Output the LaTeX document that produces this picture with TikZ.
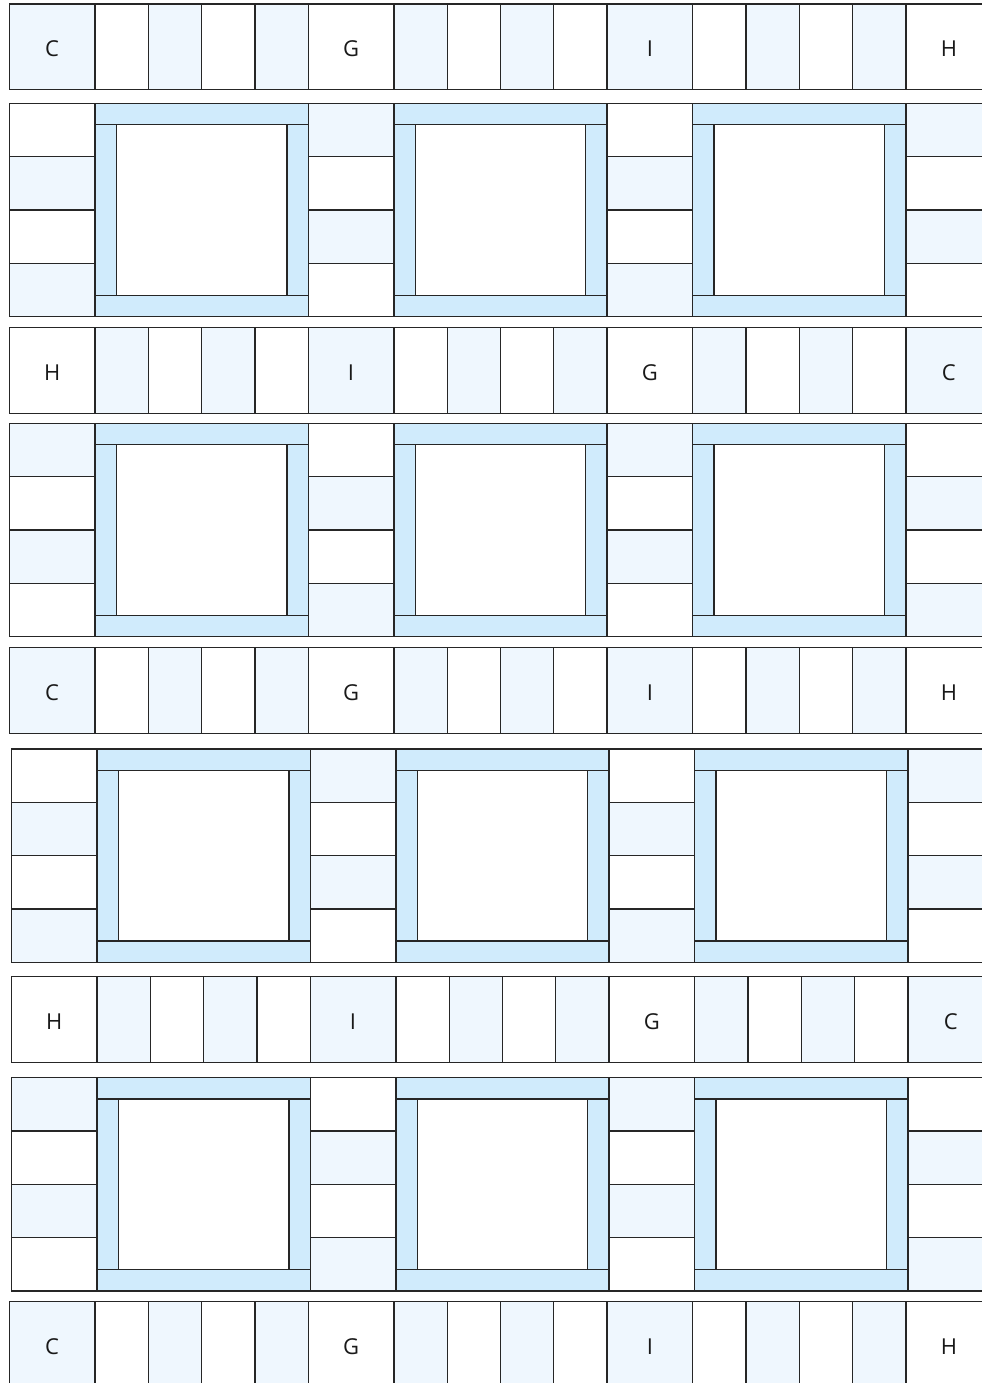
\documentclass[tikz,border=0pt]{standalone}
\usepackage{fontspec}
\setsansfont{Open Sans}
\definecolor{quiltpale}{RGB}{239,247,254}
\definecolor{quiltband}{RGB}{208,235,252}

% one pieced strip: x0, y0, parity, name, labels
\newcommand{\quiltstrip}[5]{%
  \foreach \g in {0,...,3}{
    \foreach \k in {0,...,4}{
      \pgfmathsetmacro{\xa}{#1+\g*298.9+(\k>0)*(85.7+(\k-1)*53.3)}
      \pgfmathsetmacro{\wd}{(\k==0)*85.7+(\k>0)*53.3}
      \pgfmathtruncatemacro{\pp}{mod(\g+\k+#3,2)}
      \ifnum\pp=0 \fill[quiltpale] (\xa,#2) rectangle ++(\wd,85.7); \fi
      \draw[seam] (\xa,#2) rectangle ++(\wd,85.7);
    }
  }
  \foreach \lab [count=\n from 0] in {#5}
    \node[letter] (#4-\n) at (#1+\n*298.9+42.85,#2+45) {\lab};
}

% one row of framed blocks: x0, y0, parity
\newcommand{\quiltblock}[3]{%
  \foreach \c in {0,...,3}{
    \foreach \r in {0,...,3}{
      \pgfmathtruncatemacro{\pp}{mod(\c+\r+#3,2)}
      \ifnum\pp=0 \fill[quiltpale] (#1+\c*298.9,#2+\r*53.3) rectangle ++(85.7,53.3); \fi
      \draw[seam] (#1+\c*298.9,#2+\r*53.3) rectangle ++(85.7,53.3);
    }
  }
  \foreach \f in {0,1,2}{
    \pgfmathsetmacro{\xa}{#1+85.7+\f*298.9}
    \fill[quiltband] (\xa,#2) rectangle ++(213.2,213.2);
    \fill[white] (\xa+21.3,#2+21.3) rectangle ++(170.6,170.6);
    \draw[seam] (\xa,#2) rectangle ++(213.2,213.2);
    \draw[seam] (\xa,#2+21.3) -- ++(213.2,0);
    \draw[seam] (\xa,#2+191.9) -- ++(213.2,0);
    \draw[seam] (\xa+21.3,#2+21.3) -- ++(0,170.6);
    \draw[seam] (\xa+191.9,#2+21.3) -- ++(0,170.6);
  }
}

\begin{document}
\begin{tikzpicture}[x=0.02cm, y=-0.02cm,
    seam/.style={draw=black!85, line width=0.7pt},
    letter/.style={font=\sffamily\fontsize{12.5}{15}\selectfont, text=black!90, inner sep=0pt}]
  \useasboundingbox (0,0) rectangle (982,1383);
  \clip (0,0) rectangle (982,1383);
  \fill[white] (0,0) rectangle (982,1383);

  \quiltstrip{9.3}{4}{0}{sa}{C,G,I,H}
  \quiltblock{9.3}{103.5}{1}
  \quiltstrip{9.3}{327.7}{1}{sb}{H,I,G,C}
  \quiltblock{9.3}{423.3}{0}
  \quiltstrip{9.3}{647.7}{0}{sc}{C,G,I,H}
  \quiltblock{11.3}{749}{1}
  \quiltstrip{11.3}{976.7}{1}{sd}{H,I,G,C}
  \quiltblock{11.3}{1077.7}{0}
  \quiltstrip{9.3}{1301.7}{0}{se}{C,G,I,H}
\end{tikzpicture}
\end{document}
